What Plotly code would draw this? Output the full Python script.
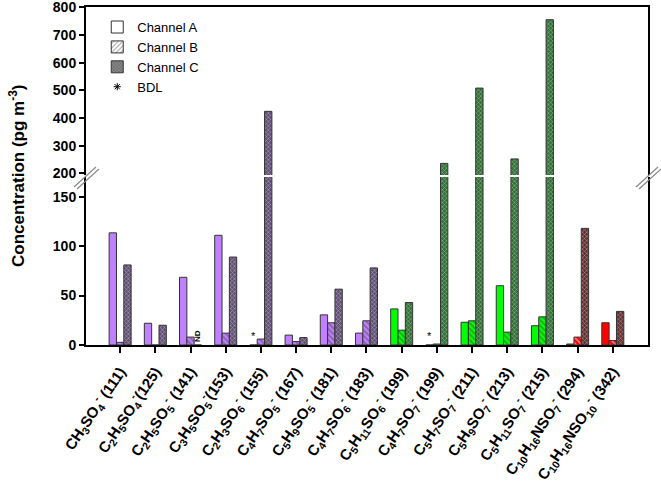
import plotly.graph_objects as go
from plotly.subplots import make_subplots

# ---------------- data ----------------
labels = [
    "CH<sub>3</sub>SO<sub>4</sub><sup>-</sup> (111)",
    "C<sub>2</sub>H<sub>5</sub>SO<sub>4</sub><sup>-</sup>(125)",
    "C<sub>2</sub>H<sub>5</sub>SO<sub>5</sub><sup>-</sup> (141)",
    "C<sub>3</sub>H<sub>5</sub>SO<sub>5</sub><sup>-</sup>(153)",
    "C<sub>2</sub>H<sub>3</sub>SO<sub>6</sub><sup>-</sup> (155)",
    "C<sub>4</sub>H<sub>7</sub>SO<sub>5</sub><sup>-</sup> (167)",
    "C<sub>5</sub>H<sub>9</sub>SO<sub>5</sub><sup>-</sup> (181)",
    "C<sub>4</sub>H<sub>7</sub>SO<sub>6</sub><sup>-</sup> (183)",
    "C<sub>5</sub>H<sub>11</sub>SO<sub>6</sub><sup>-</sup> (199)",
    "C<sub>4</sub>H<sub>7</sub>SO<sub>7</sub><sup>-</sup> (199)",
    "C<sub>5</sub>H<sub>7</sub>SO<sub>7</sub><sup>-</sup> (211)",
    "C<sub>5</sub>H<sub>9</sub>SO<sub>7</sub><sup>-</sup> (213)",
    "C<sub>5</sub>H<sub>11</sub>SO<sub>7</sub><sup>-</sup> (215)",
    "C<sub>10</sub>H<sub>16</sub>NSO<sub>7</sub><sup>-</sup> (294)",
    "C<sub>10</sub>H<sub>16</sub>NSO<sub>10</sub><sup>-</sup> (342)",
]
channel_a = [113.5, 22, 68.5, 111, 0, 10, 30.5, 12, 36.5, 0, 23, 60, 19.5, 1, 22.5]
channel_b = [2.7, 0, 8, 12, 6, 3.5, 22.5, 24.5, 15, 1, 24.5, 13, 28.5, 8, 4.5]
channel_c = [81, 20, 0, 89, 424, 7.5, 56.5, 78, 43, 236, 508, 252, 755, 118, 34]
a_flag = ["", "", "", "", "*", "", "", "", "", "*", "", "", "", "", ""]   # BDL
c_flag = ["", "", "ND", "", "", "", "", "", "", "", "", "", "", "", ""]   # not detected
family = ["S"] * 8 + ["G"] * 5 + ["N"] * 2

light = {"S": "#c080ff", "G": "#00ff00", "N": "#ff0000"}
dark = {"S": "#5e4e74", "G": "#2f6e32", "N": "#5e2e2e"}

x = list(range(len(labels)))
col_a = [light[f] for f in family]
col_c = [dark[f] for f in family]

FONT = "Liberation Sans, Arial, sans-serif"
L, R, T, B = 86, 13, 7, 147
W, H = 661, 492
PW, PH = W - L - R, H - T - B


def px(xp, yp):
    return (xp - L) / PW, (H - B - yp) / PH


fig = make_subplots(rows=2, cols=1, shared_xaxes=True)

outline = dict(color="#333333", width=1)

for row in (1, 2):
    show_text = row == 2
    fig.add_trace(go.Bar(
        x=x, y=channel_a, offsetgroup="A", showlegend=False,
        marker=dict(color=col_a, line=outline),
        text=a_flag if show_text else None, textposition="outside",
        textfont=dict(size=11, color="black", family=FONT),
        constraintext="none", cliponaxis=False,
    ), row=row, col=1)
    fig.add_trace(go.Bar(
        x=x, y=channel_b, offsetgroup="B", showlegend=False,
        marker=dict(color=col_a, line=outline,
                    pattern=dict(shape="\\", fgcolor="#222222", bgcolor=col_a,
                                 size=4, solidity=0.4)),
    ), row=row, col=1)
    fig.add_trace(go.Bar(
        x=x, y=channel_c, offsetgroup="C", showlegend=False,
        marker=dict(color=col_c, line=outline,
                    pattern=dict(shape="x", fgcolor="#1a1a1a", bgcolor=col_c,
                                 size=3, solidity=0.35)),
        text=c_flag if show_text else None, textposition="outside", textangle=-90,
        textfont=dict(size=8, color="black", family=FONT, weight="bold"),
        constraintext="none", cliponaxis=False,
    ), row=row, col=1)

# legend entries
fig.add_trace(go.Bar(x=[None], y=[None], name="Channel A", offsetgroup="A",
                     marker=dict(color="white", line=outline)), row=2, col=1)
fig.add_trace(go.Bar(x=[None], y=[None], name="Channel B", offsetgroup="B",
                     marker=dict(color="white", line=outline,
                                 pattern=dict(shape="/", fgcolor="#333333", bgcolor="white",
                                              size=4, solidity=0.3))), row=2, col=1)
fig.add_trace(go.Bar(x=[None], y=[None], name="Channel C", offsetgroup="C",
                     marker=dict(color="#888888", line=outline,
                                 pattern=dict(shape="x", fgcolor="#333333", bgcolor="#888888",
                                              size=3, solidity=0.35))), row=2, col=1)
fig.add_trace(go.Scatter(x=[None], y=[None], name="BDL", mode="markers",
                         marker=dict(symbol="asterisk-open", size=6, color="black",
                                     line=dict(color="black", width=1))), row=2, col=1)

tickfont = dict(family=FONT, size=14, color="black", weight="bold")
axis_common = dict(showline=True, linecolor="black", linewidth=2, ticks="outside",
                   ticklen=5, tickwidth=1.5, tickcolor="black", showgrid=False,
                   zeroline=False, tickfont=tickfont, ticklabeloverflow="allow",
                   automargin=False)

gap_low = (H - B - 177) / PH
gap_up = (H - B - 175) / PH

fig.update_layout(
    width=W, height=H, margin=dict(l=L, r=R, t=T, b=B, autoexpand=False),
    paper_bgcolor="white", plot_bgcolor="white",
    barmode="group", bargap=0.375, bargroupgap=0,
    font=dict(family=FONT, color="black"),
    legend=dict(x=0.02, y=0.985, xanchor="left", yanchor="top",
                font=dict(family=FONT, size=13, color="black"),
                bgcolor="rgba(0,0,0,0)", tracegroupgap=0, itemwidth=30),
    xaxis=dict(range=[-0.97, 15.0], showline=True, linecolor="black", linewidth=2,
               side="top", ticks="", showticklabels=False, showgrid=False,
               zeroline=False, domain=[0, 1], automargin=False),
    xaxis2=dict(range=[-0.97, 15.0], showline=True, linecolor="black", linewidth=2,
                ticks="outside", ticklen=6, tickwidth=1.5, tickcolor="black",
                tickvals=x, ticktext=labels, tickangle=-56, showgrid=False,
                ticklabelstandoff=4, automargin=False,
                zeroline=False, tickfont=dict(family=FONT, size=15, color="black",
                                              weight="bold")),
    yaxis=dict(domain=[gap_up, 1], range=[194, 801], tickvals=[200, 300, 400, 500, 600, 700, 800],
               mirror=True, **axis_common),
    yaxis2=dict(domain=[0, gap_low], range=[0, 170], tickvals=[0, 50, 100, 150],
                mirror=True, **axis_common),
)

# axis break marks
shapes = []
for (x0, y0, x1, y1) in [(74, 187, 96, 167), (77, 189, 99, 169),
                         (636, 187, 658, 167), (639, 189, 661, 169)]:
    a0, b0 = px(x0, y0)
    a1, b1 = px(x1, y1)
    shapes.append(dict(type="line", xref="paper", yref="paper", x0=a0, y0=b0,
                       x1=a1, y1=b1, line=dict(color="#888888", width=1.2)))
fig.update_layout(shapes=shapes)

fig.add_annotation(text="Concentration (pg m<sup>-3</sup>)", xref="paper", yref="paper",
                   x=px(17, 0)[0], y=0.5, xanchor="center", yanchor="middle",
                   textangle=-90, showarrow=False,
                   font=dict(family=FONT, size=17, color="black", weight="bold"))

fig.write_html("out.html")
